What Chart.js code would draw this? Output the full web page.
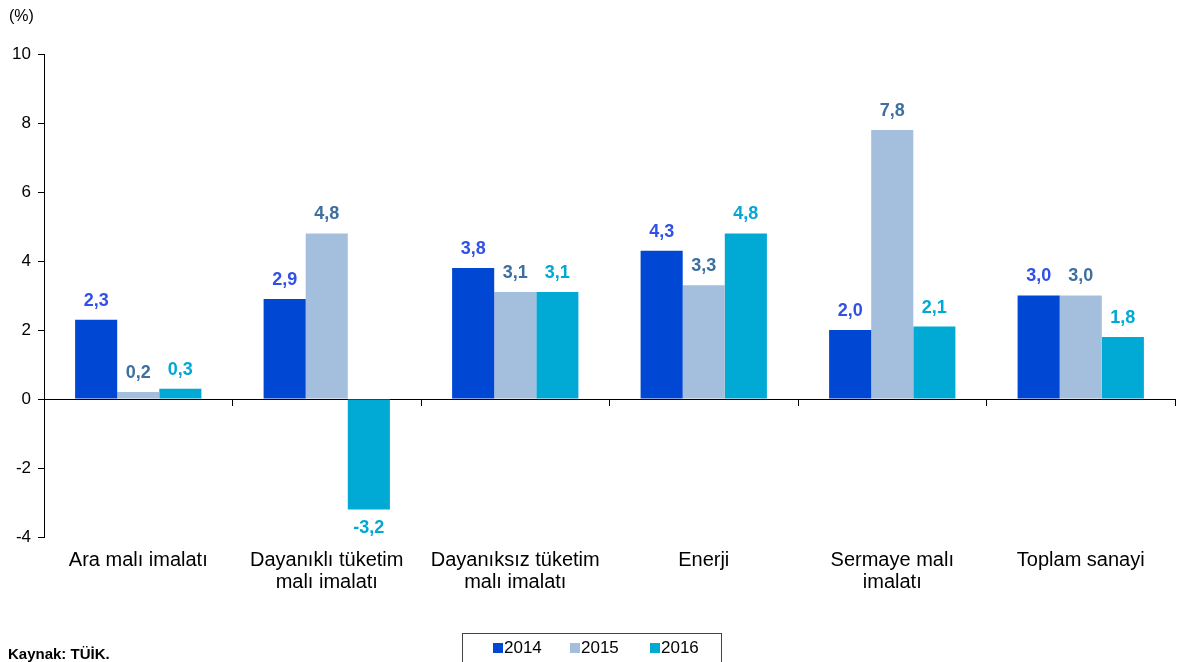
<!DOCTYPE html>
<html><head><meta charset="utf-8">
<script src="https://cdn.jsdelivr.net/npm/chart.js@4.4.1/dist/chart.umd.min.js"></script>
<style>
html,body{margin:0;padding:0;background:#fff;overflow:hidden;}
#wrap{position:relative;width:1183px;height:662px;font-family:"Liberation Sans",Arial,sans-serif;}
canvas{position:absolute;left:0;top:0;}
#unit{position:absolute;left:9px;top:7px;font-size:16px;color:#000;}
#src{position:absolute;left:8px;top:645px;font-size:15px;font-weight:bold;color:#000;}
#legend{position:absolute;left:462px;top:633px;width:260px;height:40px;border:1px solid #444;box-sizing:border-box;font-size:17px;color:#000;}
.li{position:absolute;top:4px;line-height:19px;}
.sw{display:inline-block;width:10px;height:10px;margin-right:1px;vertical-align:0px;}
</style></head>
<body><div id="wrap">
<canvas id="c" width="1183" height="662"></canvas>
<div id="unit">(%)</div>
<div id="legend"></div>
<div id="src">Kaynak: TÜİK.</div>
</div>
<script>
const categories = [["Ara malı imalatı"],["Dayanıklı tüketim","malı imalatı"],["Dayanıksız tüketim","malı imalatı"],["Enerji"],["Sermaye malı","imalatı"],["Toplam sanayi"]];
const seriesNames = ["2014","2015","2016"];
const values2014 = [2.3, 2.9, 3.8, 4.3, 2.0, 3.0];
const values2015 = [0.2, 4.8, 3.1, 3.3, 7.8, 3.0];
const values2016 = [0.3, -3.2, 3.1, 4.8, 2.1, 1.8];
const yTicks = [-4, -2, 0, 2, 4, 6, 8, 10];

const barColors = ["#0047d4", "#a3bfdd", "#00aad4"];
const labelColors = ["#3050e8", "#3d6f9f", "#00a8d6"];

const legend = document.getElementById('legend');
const lx = [30, 107, 187];
seriesNames.forEach((n,i)=>{
  const d=document.createElement('div');d.className='li';d.style.left=lx[i]+'px';
  d.innerHTML='<span class="sw" style="background:'+barColors[i]+'"></span>'+n;
  legend.appendChild(d);
});

const labelPlugin = {
  id:'vals',
  afterDatasetsDraw(chart){
    const ctx=chart.ctx;
    ctx.save();
    ctx.font='bold 18px "Liberation Sans", Arial, sans-serif';
    ctx.textAlign='center';ctx.textBaseline='middle';
    chart.data.datasets.forEach((ds,di)=>{
      const meta=chart.getDatasetMeta(di);
      meta.data.forEach((bar,i)=>{
        const v=ds.data[i];
        const y = v>=0 ? bar.y-19 : bar.y+19;
        ctx.fillStyle=labelColors[di];
        ctx.fillText(v.toFixed(1).replace('.',','), bar.x, y);
      });
    });
    ctx.restore();
  }
};

new Chart(document.getElementById('c'),{
  type:'bar',
  data:{labels:categories,datasets:[values2014,values2015,values2016].map((d,i)=>({label:seriesNames[i],data:d,backgroundColor:barColors[i],borderWidth:0,categoryPercentage:0.67,barPercentage:1.0,xAxisID:'x'}))},
  options:{
    responsive:false,animation:false,
    layout:{padding:{left:0,right:8,top:54,bottom:0}},
    plugins:{legend:{display:false},tooltip:{enabled:false}},
    scales:{
      x:{position:'bottom',grid:{display:false},border:{display:false},
        ticks:{color:'#000',font:{size:20,family:'"Liberation Sans", Arial, sans-serif',lineHeight:1.1},padding:4,maxRotation:0,autoSkip:false},
        afterFit(s){s.height=125;}},
      x2:{type:'category',labels:categories.map((c,i)=>String(i)),position:{y:0},offset:true,
        grid:{display:true,offset:true,drawOnChartArea:false,drawTicks:true,tickLength:6,color:'#000',lineWidth:1},
        border:{display:true,color:'#000',width:1},ticks:{display:false}},
      y:{min:-4,max:10,afterBuildTicks(s){s.ticks=yTicks.map(v=>({value:v}));},
        grid:{drawOnChartArea:false,drawTicks:true,tickLength:6,color:'#000'},
        border:{display:true,color:'#000',width:1},
        ticks:{color:'#000',font:{size:17,family:'"Liberation Sans", Arial, sans-serif'},padding:7},
        afterFit(s){s.width=44;}}
    }
  },
  plugins:[labelPlugin]
});
</script>
</body></html>
